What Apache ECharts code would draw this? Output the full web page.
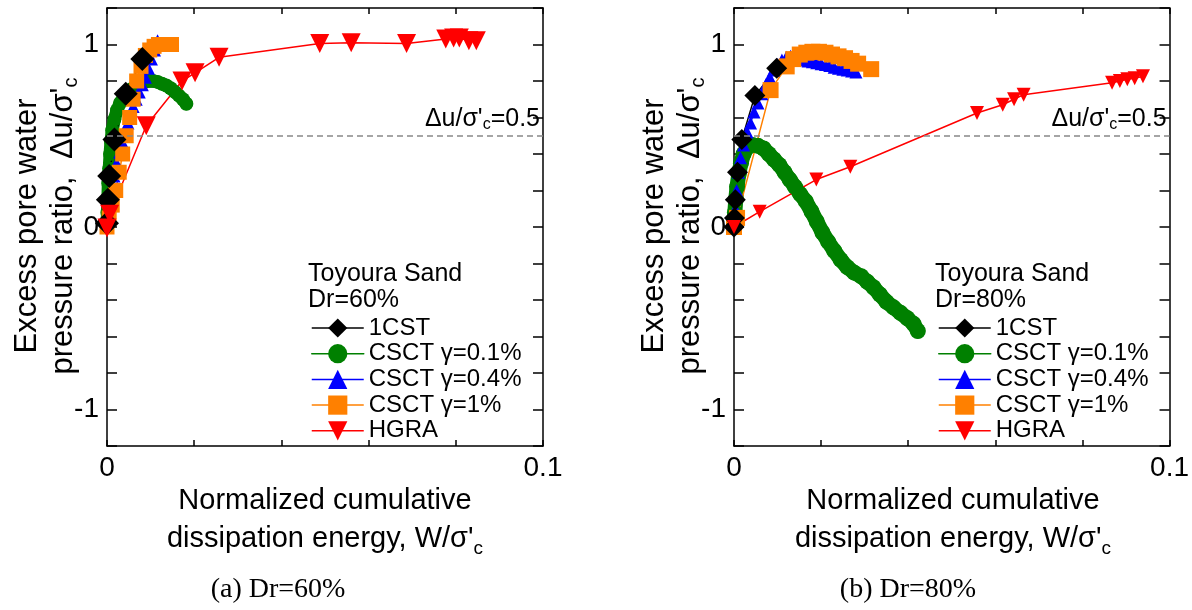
<!DOCTYPE html>
<html><head><meta charset="utf-8">
<script src="https://cdn.jsdelivr.net/npm/echarts@6/dist/echarts.min.js"></script>
<style>html,body{margin:0;padding:0;background:#fff}#c{width:1192px;height:610px}</style>
</head><body><div id="c"></div>
<script>
const FONT = 'Liberation Sans, Arial, sans-serif';
const SERIF = 'Liberation Serif, Times New Roman, serif';

const seriesNames = ['1CST', 'CSCT γ=0.1%', 'CSCT γ=0.4%', 'CSCT γ=1%', 'HGRA'];
const seriesColors = ['#000000', '#008000', '#0000ff', '#ff8000', '#ff0000'];
const panelTitles = ['Toyoura Sand\nDr=60%', 'Toyoura Sand\nDr=80%'];
const captions = ['(a) Dr=60%', '(b) Dr=80%'];
const xLabelsShown = ['0', '0.1'];
const yLabelsShown = ['-1', '0', '1'];
const refLevel = 0.5;

// ---- Panel (a) Dr=60% ----
const a_cst_x = [0, 0.0002, 0.0005, 0.0017, 0.0043, 0.0081];
const a_cst_y = [0.02, 0.15, 0.28, 0.48, 0.73, 0.92];
const a_g01_x = [0, 0.0001, 0.0002, 0.0003, 0.0005, 0.0007, 0.0009, 0.0012, 0.0017, 0.0023, 0.003, 0.0038, 0.0047, 0.0056, 0.0066, 0.0076, 0.0086, 0.0096, 0.0106, 0.0116, 0.0126, 0.0136, 0.0146, 0.0156, 0.0165, 0.0174, 0.0182];
const a_g01_y = [0, 0.08, 0.16, 0.24, 0.32, 0.40, 0.47, 0.53, 0.59, 0.64, 0.68, 0.71, 0.735, 0.755, 0.77, 0.785, 0.795, 0.80, 0.80, 0.795, 0.785, 0.775, 0.76, 0.74, 0.72, 0.70, 0.675];
const a_g04_x = [0, 0.0003, 0.0007, 0.0011, 0.0016, 0.0022, 0.0029, 0.0036, 0.0042, 0.0048, 0.0054, 0.006, 0.0067, 0.0074, 0.0081, 0.0088, 0.0095, 0.0102, 0.0109, 0.0116];
const a_g04_y = [0, 0.06, 0.13, 0.21, 0.28, 0.35, 0.41, 0.46, 0.51, 0.57, 0.62, 0.66, 0.70, 0.74, 0.78, 0.82, 0.87, 0.92, 0.97, 1.02];
const a_g1_x = [0, 0.0005, 0.0012, 0.002, 0.0028, 0.0036, 0.0044, 0.0052, 0.006, 0.0068, 0.0078, 0.0088, 0.0098, 0.0108, 0.0118, 0.0128, 0.0138, 0.0148];
const a_g1_y = [0, 0.05, 0.12, 0.20, 0.30, 0.40, 0.50, 0.60, 0.70, 0.80, 0.88, 0.94, 0.97, 0.99, 1.0, 1.0, 1.0, 1.0];
const a_hgra_x = [0, 0.0006, 0.009, 0.0172, 0.0202, 0.0257, 0.0488, 0.056, 0.0687, 0.0777, 0.0795, 0.0808, 0.083, 0.0847];
const a_hgra_y = [-0.005, 0.07, 0.555, 0.80, 0.845, 0.93, 1.005, 1.01, 1.005, 1.03, 1.035, 1.035, 1.02, 1.02];

// ---- Panel (b) Dr=80% ----
const b_cst_x = [0, 0.0001, 0.0003, 0.0008, 0.0018, 0.0048, 0.0098];
const b_cst_y = [0, 0.05, 0.15, 0.30, 0.48, 0.72, 0.87];
const b_g01_x = [0, 0.0002, 0.0004, 0.0007, 0.0011, 0.0016, 0.0022, 0.003, 0.0042, 0.0055, 0.0068, 0.008, 0.0092, 0.0104, 0.0116, 0.0128, 0.014, 0.0152, 0.0165, 0.0178, 0.019, 0.0203, 0.0216, 0.023, 0.0245, 0.026, 0.0276, 0.0292, 0.0306, 0.032, 0.0335, 0.035, 0.0366, 0.0382, 0.0398, 0.0412, 0.0422];
const b_g01_y = [0, 0.08, 0.15, 0.22, 0.29, 0.35, 0.40, 0.435, 0.45, 0.445, 0.43, 0.40, 0.37, 0.34, 0.30, 0.26, 0.22, 0.18, 0.14, 0.085, 0.03, -0.03, -0.08, -0.13, -0.18, -0.22, -0.25, -0.27, -0.30, -0.33, -0.37, -0.41, -0.44, -0.47, -0.50, -0.53, -0.57];
const b_g04_x = [0, 0.0003, 0.0006, 0.001, 0.0015, 0.0022, 0.003, 0.0038, 0.0046, 0.0055, 0.0064, 0.0073, 0.0082, 0.0091, 0.01, 0.011, 0.012, 0.013, 0.014, 0.015, 0.016, 0.017, 0.018, 0.019, 0.02, 0.021, 0.022, 0.023, 0.024, 0.025, 0.026, 0.027, 0.028];
const b_g04_y = [0, 0.10, 0.20, 0.30, 0.38, 0.45, 0.52, 0.57, 0.63, 0.68, 0.73, 0.78, 0.82, 0.86, 0.89, 0.915, 0.93, 0.935, 0.93, 0.925, 0.915, 0.91, 0.905, 0.90, 0.895, 0.89, 0.885, 0.875, 0.87, 0.865, 0.86, 0.855, 0.85];
const b_g1_x = [0, 0.0007, 0.0084, 0.0121, 0.0136, 0.0151, 0.0166, 0.018, 0.0195, 0.021, 0.0225, 0.024, 0.0255, 0.027, 0.0285, 0.0315];
const b_g1_y = [0, 0.05, 0.75, 0.88, 0.92, 0.945, 0.955, 0.96, 0.96, 0.955, 0.945, 0.935, 0.925, 0.91, 0.895, 0.865];
const b_hgra_x = [0, 0.0059, 0.0189, 0.0267, 0.0558, 0.0617, 0.0643, 0.0665, 0.0868, 0.0886, 0.0903, 0.092, 0.0939];
const b_hgra_y = [0, 0.084, 0.26, 0.33, 0.625, 0.67, 0.70, 0.725, 0.79, 0.80, 0.81, 0.815, 0.826];

const zip = (xs, ys) => xs.map((x, i) => [x, ys[i]]);

const panels = [
  { cst: [a_cst_x, a_cst_y], g01: [a_g01_x, a_g01_y], g04: [a_g04_x, a_g04_y], g1: [a_g1_x, a_g1_y], hgra: [a_hgra_x, a_hgra_y],
    sz: { cst: 24, g01: 14, g04: 13, g1: 15, hgra: 19 } },
  { cst: [b_cst_x, b_cst_y], g01: [b_g01_x, b_g01_y], g04: [b_g04_x, b_g04_y], g1: [b_g1_x, b_g1_y], hgra: [b_hgra_x, b_hgra_y],
    sz: { cst: 21, g01: 16, g04: 13, g1: 16, hgra: 14 } }
];

const grids = [
  { left: 107, top: 8, width: 436, height: 438 },
  { left: 734, top: 8, width: 438, height: 438 }
];

const xAxes = [], yAxes = [];
grids.forEach((g, gi) => {
  ['bottom', 'top'].forEach(pos => {
    xAxes.push({
      type: 'value', gridIndex: gi, position: pos, min: 0, max: 0.1, interval: 0.02,
      axisLine: { show: true, onZero: false, lineStyle: { color: '#000', width: 1.5 } },
      axisTick: { show: true, inside: true, length: 6, lineStyle: { color: '#000', width: 1.5 } },
      axisLabel: {
        show: pos === 'bottom', margin: 8, fontSize: 28, color: '#000', fontFamily: FONT,
        formatter: v => { const s = String(+v.toFixed(6)); return xLabelsShown.includes(s) ? s : ''; }
      },
      splitLine: { show: false }
    });
  });
  ['left', 'right'].forEach(pos => {
    yAxes.push({
      type: 'value', gridIndex: gi, position: pos, min: -1.2, max: 1.2, interval: 0.2,
      axisLine: { show: true, onZero: false, lineStyle: { color: '#000', width: 1.5 } },
      axisTick: { show: true, inside: true, length: 10, lineStyle: { color: '#000', width: 1.5 } },
      axisLabel: {
        show: pos === 'left', margin: 8, fontSize: 28, color: '#000', fontFamily: FONT,
        formatter: v => { const s = String(+v.toFixed(6)); return yLabelsShown.includes(s) ? s : ''; }
      },
      splitLine: { show: false }
    });
  });
});

const series = [];
panels.forEach((p, pi) => {
  const xi = pi * 2, yi = pi * 2;
  const base = (name, color, data, symbol, size, extra) => Object.assign({
    type: 'line', name, data, xAxisIndex: xi, yAxisIndex: yi,
    symbol, symbolSize: size, showAllSymbol: true,
    itemStyle: { color, borderWidth: 0 },
    lineStyle: { color, width: 1.5 },
    emphasis: { disabled: true }, animation: false
  }, extra || {});
  series.push(base(seriesNames[1], seriesColors[1], zip(...p.g01), 'circle', p.sz.g01,
    { lineStyle: { color: seriesColors[1], width: p.sz.g01 - 1, cap: 'round', join: 'round' } }));
  series.push(base(seriesNames[2], seriesColors[2], zip(...p.g04), 'triangle', p.sz.g04));
  series.push(base(seriesNames[3], seriesColors[3], zip(...p.g1), 'rect', p.sz.g1));
  series.push(base(seriesNames[0], seriesColors[0], zip(...p.cst), 'diamond', p.sz.cst, {
    markLine: {
      silent: true, symbol: 'none', animation: false,
      lineStyle: { color: '#888', type: [6, 4], width: 1.5 },
      data: [{ yAxis: refLevel }],
      label: {
        show: true, position: 'insideEndTop', distance: 3,
        formatter: '{a|Δu/σ\'}{s|c}{a|=' + refLevel + '}',
        rich: {
          a: { fontSize: 25, fontFamily: FONT, color: '#000', lineHeight: 28, verticalAlign: 'middle' },
          s: { fontSize: 16, fontFamily: FONT, color: '#000', lineHeight: 16, verticalAlign: 'bottom' }
        }
      }
    }
  }));
  series.push(base(seriesNames[4], seriesColors[4], zip(...p.hgra), 'triangle', p.sz.hgra, { symbolRotate: 180 }));
});

const legendBase = (left) => ({
  left, top: 311, orient: 'vertical', itemWidth: 52, itemHeight: 24, itemGap: 1.7,
  selectedMode: false,
  textStyle: { fontSize: 24, fontFamily: FONT, color: '#000', lineHeight: 22 },
  data: seriesNames.map((n, i) => ({ name: n, lineStyle: { width: 1.5, color: seriesColors[i] } }))
});

const richSub = (size, lh) => ({
  a: { fontSize: size, fontFamily: FONT, fill: '#000', color: '#000', lineHeight: lh, verticalAlign: 'middle' },
  s: { fontSize: Math.round(size * 0.65), fontFamily: FONT, fill: '#000', color: '#000', lineHeight: Math.round(lh / 2), verticalAlign: 'bottom' }
});

const graphic = [];
const yTitleX = [45, 672];
const xTitleX = [325, 953];
const capX = [278, 908];
const legTitleX = [308, 935];
[0, 1].forEach(i => {
  graphic.push({
    type: 'text', x: yTitleX[i], y: 226, rotation: Math.PI / 2,
    style: {
      text: '{a|Excess pore water}\n{a|pressure ratio,  Δu/σ\'}{s|c}',
      rich: richSub(31, 36), align: 'center', verticalAlign: 'middle', fill: '#000'
    }
  });
  graphic.push({
    type: 'text', x: xTitleX[i], y: 520,
    style: {
      text: '{a|Normalized cumulative}\n{a|dissipation energy, W/σ\'}{s|c}',
      rich: richSub(29, 38), align: 'center', verticalAlign: 'middle', fill: '#000'
    }
  });
  graphic.push({
    type: 'text', x: capX[i], y: 590,
    style: { text: captions[i], font: '28px ' + SERIF, fill: '#000', align: 'center', verticalAlign: 'middle' }
  });
  graphic.push({
    type: 'text', x: legTitleX[i], y: 287,
    style: { text: panelTitles[i], font: '25px ' + FONT, lineHeight: 26, fill: '#000', align: 'left', verticalAlign: 'middle' }
  });
});

const chart = echarts.init(document.getElementById('c'), null, { renderer: 'canvas' });
chart.setOption({
  animation: false,
  backgroundColor: '#fff',
  grid: grids,
  xAxis: xAxes,
  yAxis: yAxes,
  legend: [legendBase(306), legendBase(933)],
  series,
  graphic
});
</script></body></html>
